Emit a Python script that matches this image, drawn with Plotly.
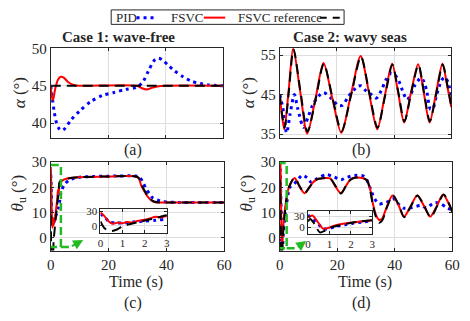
import plotly.graph_objects as go

# ---- panel (a): alpha, wave-free ----
t_a_pid = [0, 0.5, 1.2, 2, 3, 4, 5, 7, 10, 14, 18, 22, 26, 30, 32, 34, 36, 37.5, 39, 41, 43, 46, 49, 52, 55, 60]
alpha_a_pid = [45, 43.5, 41.5, 40, 39.2, 39.0, 39.3, 40.4, 41.6, 42.9, 43.7, 44.1, 44.5, 44.8, 45.5, 47.0, 48.4, 48.7, 48.4, 47.7, 47.0, 46.2, 45.6, 45.3, 45.1, 45.0]
t_a_fsvc = [0, 0.4, 0.8, 1.5, 2.5, 3.5, 4.5, 6, 8, 10, 30, 31.5, 33.4, 35, 37, 40, 60]
alpha_a_fsvc = [45, 43.5, 43.1, 44.5, 45.8, 46.2, 46.1, 45.5, 45.1, 45.0, 45.0, 44.7, 44.5, 44.7, 44.9, 45.0, 45.0]
t_a_ref = [0, 60]
alpha_a_ref = [45, 45]

# ---- panel (b): alpha, wavy seas ----
t_b_pid = [0, 1.1, 2.4, 3.6, 5.1, 6.3, 8.3, 10, 11.4, 13.7, 15.4, 18.2, 20.5, 22, 23.9, 27.3, 28.5, 30.1, 32,
           33.8, 35.5, 37.1, 38.9, 40.5, 41.7, 43.4, 44.5, 45.8, 47.3, 49.4, 50.5, 51.5, 52.7, 53.6, 54.8, 56.6,
           57.7, 59, 60]
alpha_b_pid = [45, 41.5, 35.3, 40, 45, 41.4, 36.7, 39.5, 42.2, 44.7, 45.5, 43.9, 42.2, 42.3, 44.4, 47.1, 47.2, 46, 45,
               44.1, 46, 48.7, 50.4, 49.8, 48.4, 45.1, 43.7, 45, 47.4, 49.2, 48.2, 45.5, 41.3, 41.5, 44.7, 48.6,
               49.4, 47.9, 42.6]
t_b_fsvc = [0, 0.8, 1.6, 3.1, 4.7, 7.1, 9.6, 12.5, 15.3, 18.4, 21.5, 24.9, 28.3, 31.2, 34.1, 36.7, 39.3, 41.4,
            43.5, 45.9, 48.4, 50.4, 52.4, 54.7, 56.9, 58.5, 60]
alpha_b_fsvc = [45, 39.5, 36.2, 46, 56.8, 46, 35.1, 44, 53, 44, 35.3, 45, 54.8, 45.5, 36.2, 44.5, 52.8, 45.5,
                37.9, 45.5, 52.7, 45.4, 37.9, 45.5, 52.8, 47.5, 41.8]
t_b_ref = [0, 0.8, 1.7, 3.2, 4.8, 7.2, 9.7, 12.6, 15.4, 18.5, 21.6, 25, 28.4, 31.3, 34.2, 36.8, 39.4, 41.5,
           43.6, 46, 48.5, 50.5, 52.5, 54.8, 57, 58.6, 60]
alpha_b_ref = [45, 40, 36.6, 46, 56.5, 46, 35.6, 44, 52.8, 44, 35.7, 45, 54.6, 45.5, 36.6, 44.5, 52.6, 45.5,
               38.2, 45.5, 52.5, 45.4, 38.2, 45.5, 52.6, 47.5, 42.2]

# ---- panel (c): theta_u, wave-free ----
t_c_pid = [0, 0.2, 0.4, 0.7, 1.0, 1.5, 2.0, 2.5, 3.0, 3.5, 4.6, 6.3, 8, 10, 15, 20, 30, 30.8, 31.8, 32.9, 34.1,
           35.2, 36.9, 38.6, 40.3, 45, 60]
theta_c_pid = [25, 18, 8, 6, 6, 8, 9.5, 11.5, 14, 17.7, 20.9, 22.8, 23.5, 24, 24.3, 24.4, 24.4, 24, 22.1, 19.6, 17.5,
               15.9, 15, 14.4, 14.2, 14, 14]
t_c_fsvc = [0, 0.15, 0.35, 0.55, 0.8, 1.0, 1.2, 1.4, 1.6, 1.9, 2.2, 2.5, 2.7, 3.0, 3.5, 4.5, 6, 10, 20, 29.5,
            30.5, 31.2, 32.3, 33.4, 34.5, 35.7, 37, 38, 40, 60]
theta_c_fsvc = [28, 22, 10, 4, 7, 5, 8, 6.5, 9, 12, 15, 19, 17.5, 20.5, 22, 23, 23.6, 24, 24.3, 24.3,
                23.5, 21, 18.5, 16.5, 15.1, 14.2, 14, 14, 14, 14]
t_c_ref = [0, 0.2, 0.5, 0.75, 1.0, 1.4, 1.85, 2.2, 2.5, 2.8, 3.0, 4, 6, 10, 20, 29.5, 30.5, 31.2, 32.3, 33.4,
           34.5, 35.7, 37, 38, 40, 60]
theta_c_ref = [9, -6, -11, -8, -1, 4, 9, 13, 16, 20, 22, 23, 23.5, 24, 24.3, 24.3, 23.6, 21.5, 19, 16.8,
               15.3, 14.4, 14.1, 14, 14, 14]

# ---- panel (d): theta_u, wavy seas ----
t_d_pid = [0, 0.25, 0.5, 0.7, 0.9, 1.3, 1.7, 2.05, 2.5, 3.0, 3.8, 4.6, 6, 7.8, 9.5, 11, 13, 16.3, 19, 21.3,
           23.5, 26, 29, 30, 31, 32, 33, 34.5, 37, 39.5, 41.2, 43, 46, 49, 51, 54, 56, 58, 60]
theta_d_pid = [33, 22, 8, -3, -4, 3, 7, 11, 14.5, 18, 20.5, 21, 22.5, 24.8, 23.8, 22, 23.5, 25, 24, 23,
               24, 24.7, 24.5, 23.5, 21, 18, 15.5, 13.5, 14, 15.5, 13.5, 11.8, 12, 12.8, 12, 14, 13.5, 12, 11]
t_d_fsvc = [0, 0.2, 0.45, 0.7, 0.9, 1.3, 1.8, 2.3, 2.9, 3.5, 4.3, 5.2, 6.9, 8.6, 10, 11.5, 13, 14.4, 17.5,
            19.3, 21.2, 23, 24.5, 26, 29, 30.5, 31.5, 32.5, 33.5, 34.5, 35.5, 37.3, 39.2, 41.3, 43.2, 45.5,
            47.8, 50, 52.3, 54.6, 56.8, 58.6, 60]
theta_d_fsvc = [27, 32, 15, -3, -2, 6, 11.5, 15, 19, 21, 22.7, 23.7, 20.2, 17.7, 19.5, 21.9, 23.2, 23.5, 23.5,
                20.5, 17.7, 20.5, 23, 23.8, 23.6, 22.5, 19, 13, 9, 7.2, 7.5, 12.5, 16.8, 13, 8.4, 12.5,
                16.8, 13, 8.4, 12.5, 17.2, 14, 10.2]
t_d_ref = [0, 0.1, 0.3, 0.55, 0.8, 1.1, 1.5, 2.3, 3.0, 3.8, 4.5, 5.3, 7.0, 8.7, 10, 11.6, 13, 14.4, 17.5,
           19.4, 21.3, 23, 24.6, 26, 29, 30.3, 31.3, 32.3, 33.4, 34.5, 35.6, 37.4, 39.4, 41.4, 43.3, 45.6,
           47.9, 50.1, 52.5, 54.7, 57, 58.7, 60]
theta_d_ref = [16, 23, 10, -13, -8, 1, 6.5, 15.3, 19.5, 21.5, 23, 23.7, 20.2, 17.6, 19.5, 22, 23.2, 23.5, 23.5,
               20.5, 17.6, 20.5, 23, 23.8, 23.6, 22.8, 19.5, 13.5, 8.5, 6, 6.8, 12.5, 16.8, 13, 8.2, 12.5,
               16.8, 13, 8.2, 12.5, 17.2, 14, 10.2]

FONT = "Liberation Serif"
BLUE, RED, BLACK, GREEN = "#0000ff", "#ff0000", "#000000", "#22bb22"
AXC = "#262626"

fig = go.Figure()


def add_three(xa, ya, tp, yp, tf, yf, tr, yr):
    fig.add_trace(go.Scatter(x=tp, y=yp, mode="lines", line=dict(color=BLUE, width=3, dash="3px,4px", shape="spline", smoothing=0.8),
                             xaxis=xa, yaxis=ya, showlegend=False))
    fig.add_trace(go.Scatter(x=tf, y=yf, mode="lines", line=dict(color=RED, width=2, shape="spline", smoothing=0.8),
                             xaxis=xa, yaxis=ya, showlegend=False))
    fig.add_trace(go.Scatter(x=tr, y=yr, mode="lines", line=dict(color=BLACK, width=2, dash="10px,6px", shape="spline", smoothing=0.8),
                             xaxis=xa, yaxis=ya, showlegend=False))


add_three("x", "y", t_a_pid, alpha_a_pid, t_a_fsvc, alpha_a_fsvc, t_a_ref, alpha_a_ref)
add_three("x2", "y2", t_b_pid, alpha_b_pid, t_b_fsvc, alpha_b_fsvc, t_b_ref, alpha_b_ref)
add_three("x3", "y3", t_c_pid, theta_c_pid, t_c_fsvc, theta_c_fsvc, t_c_ref, theta_c_ref)
add_three("x4", "y4", t_d_pid, theta_d_pid, t_d_fsvc, theta_d_fsvc, t_d_ref, theta_d_ref)
add_three("x5", "y5", t_c_pid, theta_c_pid, t_c_fsvc, theta_c_fsvc, t_c_ref, theta_c_ref)
add_three("x6", "y6", t_d_pid, theta_d_pid, t_d_fsvc, theta_d_fsvc, t_d_ref, theta_d_ref)


def axis(domain, rng, ticks, anchor, labels=True, size=15):
    return dict(domain=domain, range=rng, tickvals=ticks, anchor=anchor, showgrid=True, gridcolor="#dedede",
                gridwidth=1, showline=True, linecolor=AXC, linewidth=1, mirror="ticks", ticks="inside",
                ticklen=3, tickcolor=AXC, showticklabels=labels, zeroline=False, fixedrange=True,
                tickfont=dict(family=FONT, size=size, color=AXC))


W, H = 470, 321
def px(x): return x / W
def py(y): return 1 - y / H

xa, xb = [px(48), px(225)], [px(283), px(459)]
y_top, y_bot = [py(135), py(42)], [py(252), py(160)]

fig.update_layout(
    width=W, height=H, margin=dict(l=0, r=0, t=0, b=0), autosize=False,
    paper_bgcolor="white", plot_bgcolor="white",
    xaxis=axis(xa, [0, 60], [0, 20, 40, 60], "y", labels=False),
    yaxis=axis(y_top, [38, 50], [40, 45, 50], "x"),
    xaxis2=axis(xb, [0, 60], [0, 20, 40, 60], "y2", labels=False),
    yaxis2=axis(y_top, [34, 56.7], [35, 45, 55], "x2"),
    xaxis3=axis([px(48), px(226)], [0, 60], [0, 20, 40, 60], "y3"),
    yaxis3=axis(y_bot, [-5, 30], [0, 10, 20, 30], "x3"),
    xaxis4=axis([px(283), px(460)], [0, 60], [0, 20, 40, 60], "y4"),
    yaxis4=axis(y_bot, [-5, 30], [0, 10, 20, 30], "x4"),
    xaxis5=axis([px(99), px(167)], [0, 3], [0, 1, 2, 3], "y5", size=11),
    yaxis5=axis([py(234), py(209)], [-16, 35], [0, 30], "x5", size=11),
    xaxis6=axis([px(312), px(378)], [0, 3], [0, 1, 2, 3], "y6", size=11),
    yaxis6=axis([py(235), py(211)], [-18, 44], [0, 30], "x6", size=11),
)

ann = []
def txt(x, y, s, size=16, angle=0, anchor="center"):
    ann.append(dict(x=px(x), y=py(y), xref="paper", yref="paper", text=s, showarrow=False, textangle=angle,
                    xanchor=anchor, yanchor="middle", font=dict(family=FONT, size=size, color=AXC)))

txt(118, 30, "<b>Case 1: wave-free</b>", 15)
txt(355, 30, "<b>Case 2: wavy seas</b>", 15)
txt(132, 147, "(a)")
txt(367, 147, "(b)")
txt(135, 285, "Time (s)")
txt(370, 285, "Time (s)")
txt(132, 306, "(c)")
txt(367, 306, "(d)")
txt(16, 88, "<i>α</i> (°)", 17, -90)
txt(251, 88, "<i>α</i> (°)", 17, -90)
txt(15, 192, "<i>θ</i><sub>u</sub> (°)", 17, -90)
txt(250, 192, "<i>θ</i><sub>u</sub> (°)", 17, -90)
# legend texts
txt(113, 10, "PID", 13, anchor="left")
txt(169, 10, "FSVC", 13, anchor="left")
txt(238, 10, "FSVC reference", 13, anchor="left")

# zoom-in arrows
ann.append(dict(x=11.2, y=-0.8, ax=6.8, ay=-3.6, xref="x3", yref="y3", axref="x3", ayref="y3", text="",
                showarrow=True, arrowhead=2, arrowsize=1, arrowwidth=2, arrowcolor=GREEN))
ann.append(dict(x=9.2, y=-1.2, ax=5.8, ay=-4.0, xref="x4", yref="y4", axref="x4", ayref="y4", text="",
                showarrow=True, arrowhead=2, arrowsize=1, arrowwidth=2, arrowcolor=GREEN))

shapes = [
    # legend box and samples
    dict(type="rect", xref="paper", yref="paper", x0=px(110), x1=px(349), y0=py(17), y1=py(2),
         line=dict(color=AXC, width=1), fillcolor="rgba(0,0,0,0)", layer="above"),
    dict(type="line", xref="paper", yref="paper", x0=px(136), x1=px(154), y0=py(10), y1=py(10),
         line=dict(color=BLUE, width=3, dash="3px,4px")),
    dict(type="line", xref="paper", yref="paper", x0=px(205), x1=px(227), y0=py(10), y1=py(10),
         line=dict(color=RED, width=2)),
    dict(type="line", xref="paper", yref="paper", x0=px(324), x1=px(346), y0=py(10), y1=py(10),
         line=dict(color=BLACK, width=2, dash="7px,6px")),
    # green zoom boxes
    dict(type="rect", xref="x3", yref="y3", x0=-0.6, x1=3.5, y0=-3.6, y1=28.8,
         line=dict(color=GREEN, width=2.5, dash="8px,4px"), layer="above"),
    dict(type="line", xref="x3", yref="y3", x0=3.5, x1=6.8, y0=-3.6, y1=-3.6,
         line=dict(color=GREEN, width=2.5, dash="8px,4px"), layer="above"),
    dict(type="rect", xref="x4", yref="y4", x0=-1.0, x1=2.4, y0=-4.1, y1=29.6,
         line=dict(color=GREEN, width=2.5, dash="8px,4px"), layer="above"),
    dict(type="line", xref="x4", yref="y4", x0=2.4, x1=5.8, y0=-4.1, y1=-4.1,
         line=dict(color=GREEN, width=2.5, dash="8px,4px"), layer="above"),
]

fig.update_layout(annotations=ann, shapes=shapes)
fig.write_html("out.html", config={"displayModeBar": False},
               post_script="document.body.style.margin='0px';")
